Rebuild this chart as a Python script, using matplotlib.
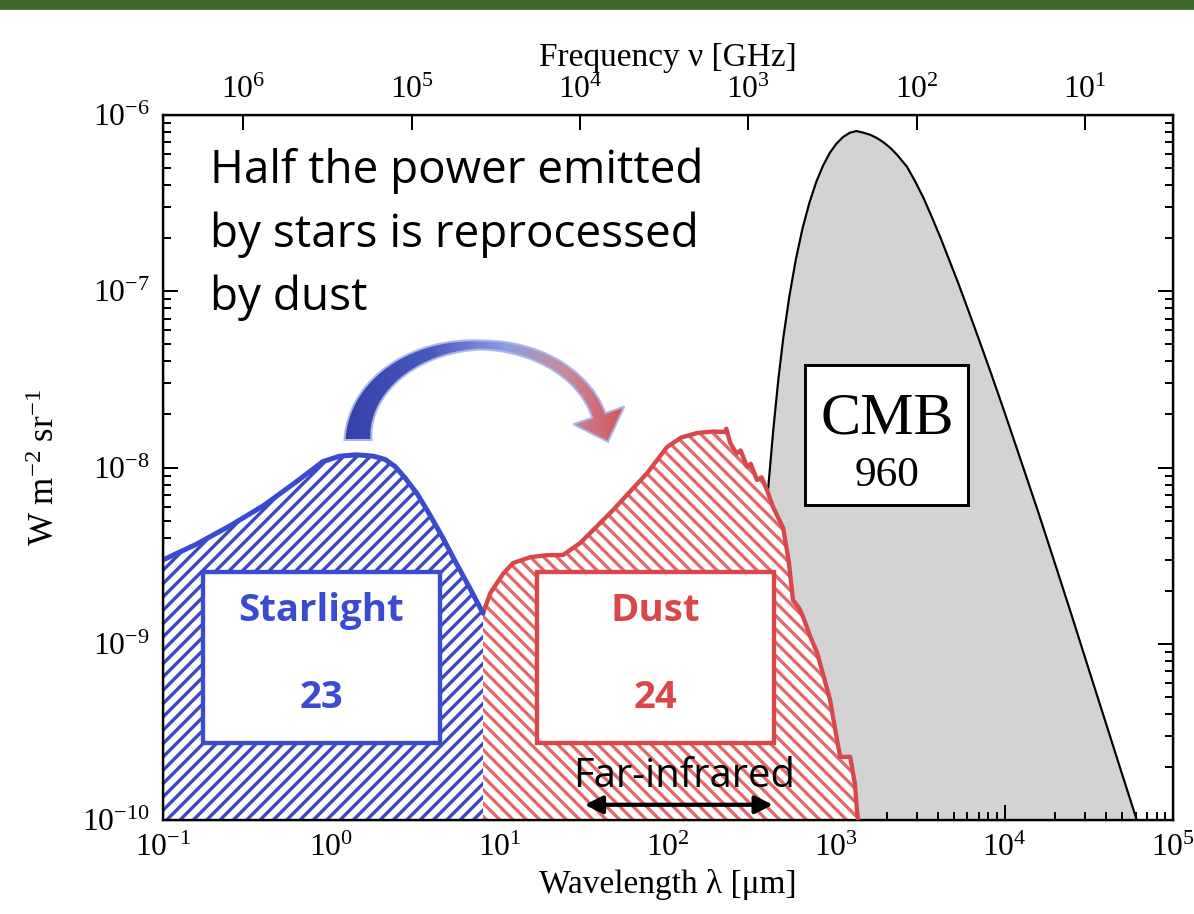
import matplotlib

matplotlib.use('Agg')
import matplotlib.pyplot as plt
import numpy as np
from matplotlib.colors import LinearSegmentedColormap
from matplotlib.patches import Polygon, Rectangle
from matplotlib.ticker import NullLocator

# ---- data ----
# wavelength in um, intensity in W m^-2 sr^-1
star_wl = [0.100, 0.158, 0.251, 0.398, 0.631, 0.891, 1.12, 1.41, 1.78, 2.09, 2.40,
           2.75, 3.24, 3.80, 4.57, 5.50, 6.61, 7.96]
star_I = [2.99e-9, 3.67e-9, 4.68e-9, 6.1e-9, 8.41e-9, 1.08e-8, 1.16e-8, 1.18e-8,
          1.16e-8, 1.11e-8, 1.01e-8, 8.7e-9, 7.08e-9, 5.5e-9, 4.03e-9, 2.88e-9,
          2.09e-9, 1.49e-9]

dust_wl = [7.96, 8.8, 10.5, 12.0, 15.2, 19.0, 23.8, 30.1, 47.2, 75.2, 98.9, 120, 149,
           185, 218, 222, 234, 255, 270, 295, 310, 338, 360, 388, 420, 483, 520,
           553, 600, 635, 700, 769, 918, 1000, 1054, 1208, 1290, 1330, 1350]
dust_I = [1.49e-9, 1.94e-9, 2.5e-9, 2.87e-9, 3.1e-9, 3.18e-9, 3.19e-9, 3.73e-9, 5.74e-9,
          9.3e-9, 1.31e-8, 1.48e-8, 1.57e-8, 1.6e-8, 1.59e-8, 1.66e-8, 1.38e-8, 1.2e-8,
          1.25e-8, 1.01e-8, 1.05e-8, 8.5e-9, 8.8e-9, 7.4e-9, 6.0e-9, 4.54e-9, 3.0e-9,
          1.77e-9, 1.6e-9, 1.42e-9, 1.1e-9, 8.9e-10, 4.8e-10, 3.0e-10, 2.28e-10, 2.28e-10,
          1.6e-10, 1.1e-10, 1.0e-10]

cmb_wl = [282, 316, 355, 388, 422, 452, 483, 525, 575, 631, 692, 759, 832, 912, 1000,
          1096, 1202, 1318, 1445, 1585, 1738, 1905, 2089, 2291, 2630, 2951, 3311, 3715,
          4169, 4677, 5248, 5888, 6607, 7413, 8318, 9333, 10470, 12590, 15850, 19950,
          25120, 31620, 39810, 50120, 60950]
cmb_I = [1.0e-10, 5.6e-10, 2.4e-9, 6.5e-9, 1.63e-8, 3.14e-8, 5.36e-8, 9.27e-8, 1.52e-7,
         2.29e-7, 3.18e-7, 4.16e-7, 5.14e-7, 6.07e-7, 6.87e-7, 7.5e-7, 7.93e-7, 8.11e-7,
         7.94e-7, 7.73e-7, 7.41e-7, 7.0e-7, 6.52e-7, 5.96e-7, 5.08e-7, 4.17e-7, 3.35e-7,
         2.6e-7, 2.0e-7, 1.51e-7, 1.14e-7, 8.47e-8, 6.28e-8, 4.63e-8, 3.4e-8, 2.48e-8,
         1.8e-8, 1.07e-8, 5.56e-9, 2.83e-9, 1.43e-9, 7.14e-10, 3.58e-10, 1.79e-10, 1.0e-10]

freq_ticks = [1e6, 1e5, 1e4, 1e3, 1e2, 1e1]          # GHz
freq_labels = ['$10^6$', '$10^5$', '$10^4$', '$10^3$', '$10^2$', '$10^1$']

box_labels = [('Starlight', '23'), ('Dust', '24')]
cmb_label = ('CMB', '960')
title_lines = ['Half the power emitted', 'by stars is reprocessed', 'by dust']
fir_range = (32, 420)  # um

# ---- style ----
BLUE = '#3a4bd0'
RED = '#d9474b'
SERIF = 'Liberation Serif'
SANS = 'Open Sans'

plt.rcParams['font.family'] = SERIF
plt.rcParams['mathtext.default'] = 'regular'
plt.rcParams['axes.unicode_minus'] = False
plt.rcParams['hatch.linewidth'] = 2.0

fig = plt.figure(figsize=(1194 / 120, 914 / 120), dpi=120)
ax = fig.add_axes([163 / 1194, 1 - 820 / 914, 1010 / 1194, 705 / 914])
ax.set_xscale('log')
ax.set_yscale('log')
ax.set_xlim(0.1, 1e5)
ax.set_ylim(1e-10, 1e-6)

# CMB
ax.fill_between(cmb_wl, cmb_I, 1e-10, facecolor='#d3d3d3', edgecolor='none', zorder=1)
ax.plot(cmb_wl, cmb_I, color='black', lw=1.3, zorder=1.5)

# dust and starlight, hatched
ax.fill_between(dust_wl, dust_I, 1e-10, facecolor='white', edgecolor='#e06a6c',
                hatch='\\\\\\', linewidth=0, zorder=2)
ax.plot(dust_wl, dust_I, color=RED, lw=2.6, zorder=3, solid_joinstyle='round')
ax.fill_between(star_wl, star_I, 1e-10, facecolor='white', edgecolor='#3b47c0',
                hatch='///', linewidth=0, zorder=2)
ax.plot(star_wl, star_I, color=BLUE, lw=3.0, zorder=3, solid_capstyle='round')

# far-infrared arrow
ax.annotate('', xy=(fir_range[0], 1.22e-10), xytext=(fir_range[1], 1.22e-10),
            arrowprops=dict(arrowstyle='<|-|>', color='black', lw=2.5,
                            mutation_scale=22, shrinkA=0, shrinkB=0), zorder=5)
ax.text(np.sqrt(fir_range[0] * fir_range[1]) * 1.07, 1.75e-10, 'Far-infrared',
        family=SANS, fontsize=24, ha='center', va='center', zorder=5)

for s in ax.spines.values():
    s.set_linewidth(1.4)
ax.tick_params(which='both', direction='in', top=False, right=True, labelsize=19,
               width=1.2, pad=8)
ax.tick_params(which='major', length=9)
ax.tick_params(which='minor', length=5)
ax.set_xlabel('Wavelength λ [μm]', fontsize=20, labelpad=4)
ax.set_ylabel('W m$^{-2}$ sr$^{-1}$', fontsize=21, labelpad=12)

# top frequency axis
ax2 = ax.twiny()
ax2.set_xscale('log')
ax2.set_xlim(ax.get_xlim())
ax2.set_xticks([3e5 / f for f in freq_ticks])
ax2.set_xticklabels(freq_labels)
ax2.xaxis.set_minor_locator(NullLocator())
ax2.tick_params(direction='in', length=9, width=1.2, labelsize=19, pad=6)
ax2.set_xlabel('Frequency ν [GHz]', fontsize=20, labelpad=6)

# ---- overlay in pixel coordinates for annotations ----
ov = fig.add_axes([0, 0, 1, 1])
ov.set_xlim(0, 1194)
ov.set_ylim(914, 0)
ov.set_xticks([])
ov.set_yticks([])
ov.axis('off')

ov.add_patch(Rectangle((0, 0), 1194, 9, color='#3f6a2b'))

for (name, val), x0, col in zip(box_labels, [203, 537], [BLUE, RED]):
    ov.add_patch(Rectangle((x0, 572), 237, 171, facecolor='white', edgecolor=col, lw=2.6))
    cx = x0 + 118
    ov.text(cx, 611, name, family=SANS, weight='bold', fontsize=23, color=col,
            ha='center', va='center')
    ov.text(cx, 698, val, family=SANS, weight='bold', fontsize=23, color=col,
            ha='center', va='center')

ov.add_patch(Rectangle((805, 365), 163, 140, facecolor='white', edgecolor='black', lw=1.8))
ov.text(887, 420, cmb_label[0], fontsize=36, ha='center', va='center')
ov.text(887, 476, cmb_label[1], fontsize=26, ha='center', va='center')

for i, line in enumerate(title_lines):
    ov.text(210, 183 + 63.5 * i, line, family=SANS, fontsize=27.5, ha='left',
            va='baseline')

# curved gradient arrow
cx, cy, ry = 480, 440, 95
th = np.linspace(np.pi, np.radians(15), 80)
rx = np.where(th > np.pi / 2, 122, 123)
px = cx + rx * np.cos(th)
py = cy - ry * np.sin(th)
w = np.where(th > np.pi / 2,
             27 - 18 * (np.pi - th) / (np.pi / 2),
             9 + 5 * (np.pi / 2 - th) / (np.pi / 2 - np.radians(15)))
nx = np.cos(th) / rx
ny = -np.sin(th) / ry
nn = np.hypot(nx, ny)
nx, ny = nx / nn, ny / nn
outer = np.column_stack([px + nx * w / 2, py + ny * w / 2])
inner = np.column_stack([px - nx * w / 2, py - ny * w / 2])
t_end = th[-1]
dx, dy = rx[-1] * np.sin(t_end), ry * np.cos(t_end)
dn = np.hypot(dx, dy)
dx, dy = dx / dn, dy / dn
bx, by = px[-1], py[-1]
head = np.array([[bx + nx[-1] * 27, by + ny[-1] * 27],
                 [bx + dx * 28, by + dy * 28],
                 [bx - nx[-1] * 27, by - ny[-1] * 27]])
poly_xy = np.vstack([outer, head, inner[::-1]])
arrow = Polygon(poly_xy, closed=True, facecolor='none', edgecolor='#a9b8ea', lw=1.2,
                zorder=6)
ov.add_patch(arrow)
cmap = LinearSegmentedColormap.from_list(
    'arr', [(0, '#3440aa'), (0.3, '#4a58c0'), (0.55, '#8d9de0'), (0.75, '#c88a9e'),
            (1, '#d84848')])
grad = np.linspace(0, 1, 256).reshape(1, -1)
im = ov.imshow(grad, cmap=cmap, extent=(340, 640, 450, 335), aspect='auto', zorder=5)
im.set_clip_path(arrow)
ov.set_xlim(0, 1194)
ov.set_ylim(914, 0)

fig.savefig('out.png', dpi=120)
